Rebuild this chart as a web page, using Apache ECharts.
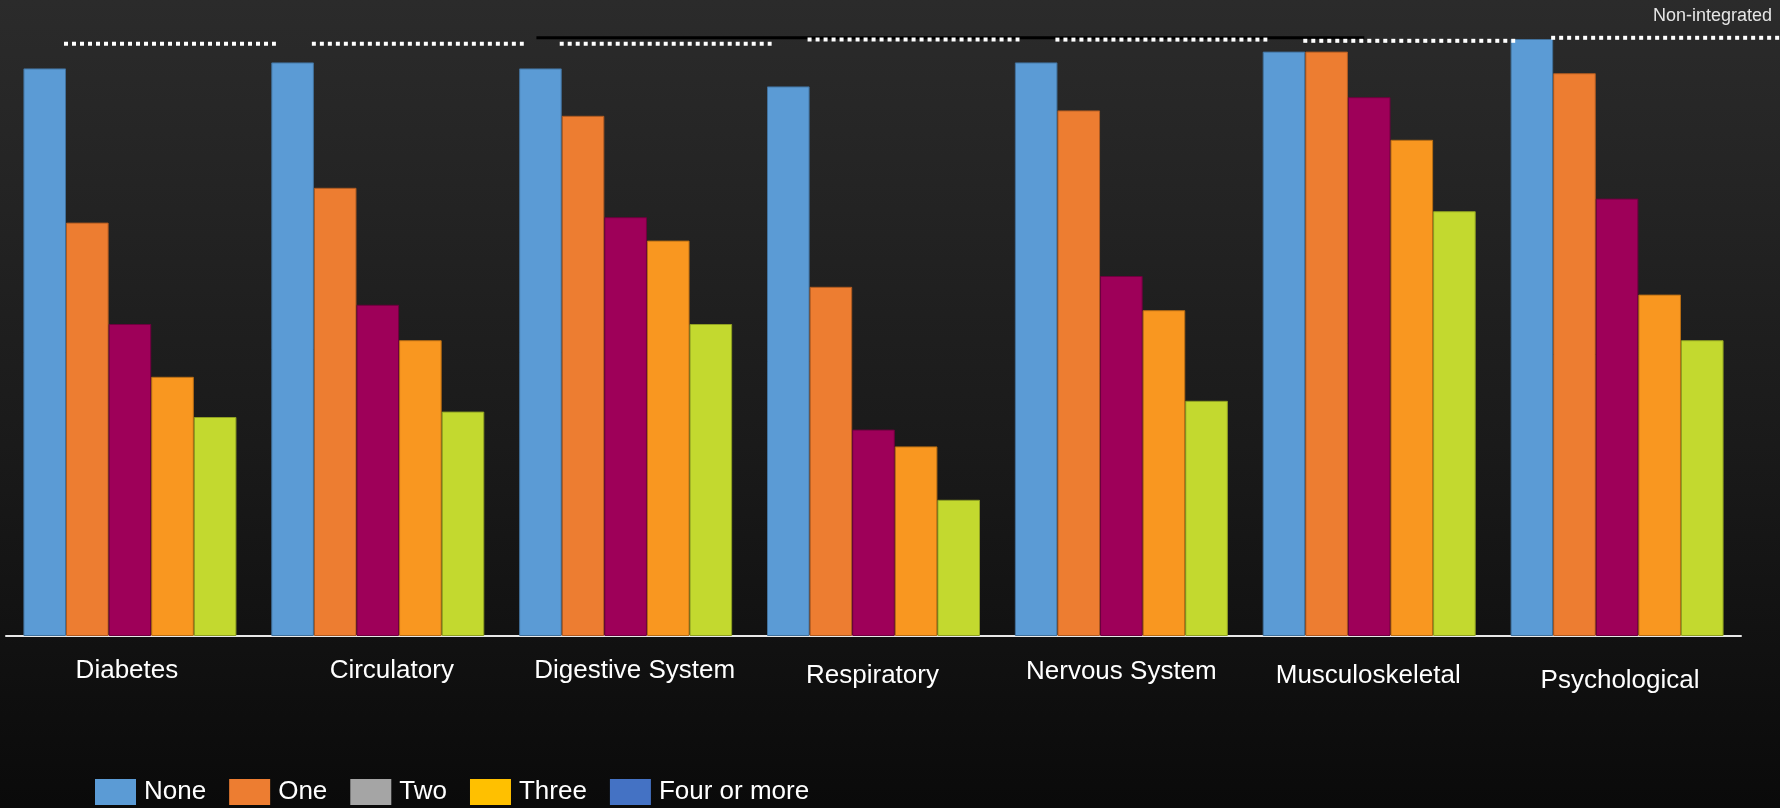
<!DOCTYPE html>
<html>
<head>
<meta charset="utf-8">
<title>Conditions by number of comorbidities</title>
<script src="https://cdn.jsdelivr.net/npm/echarts@6/dist/echarts.min.js"></script>
<style>
  html, body { margin: 0; padding: 0; background: #0a0a0a; }
  #chart { width: 1780px; height: 808px; }
</style>
</head>
<body>
<div id="chart"></div>
<script>
// Condition groups along the x axis
const categories = ['Diabetes', 'Circulatory', 'Digestive System', 'Respiratory',
                    'Nervous System', 'Musculoskeletal', 'Psychological'];

// Number of additional conditions (series names)
const seriesNames = ['None', 'One', 'Two', 'Three', 'Four or more'];

// Bar values per series, one per condition group
const noneValues  = [94.6, 95.6, 94.6, 91.6, 95.6, 97.4, 99.5];
const oneValues   = [68.9, 74.7, 86.7, 58.2, 87.6, 97.4, 93.8];
const twoValues   = [52.0, 55.2, 69.8, 34.4, 60.0, 89.8, 72.9];
const threeValues = [43.2, 49.3, 65.9, 31.6, 54.3, 82.7, 56.9];
const fourValues  = [36.5, 37.4, 52.0, 22.7, 39.2, 70.8, 49.3];

// Non-integrated reference level per condition group (dotted lines)
const nonIntegrated = [98.7, 98.7, 98.7, 99.4, 99.4, 99.2, 99.7];

// Integrated reference segment: [from group index, to group index, level]
const integratedSegment = [1.64, 4.98, 99.7];

// ---- styling ----
const barColors    = ['#5b9bd5', '#ed7d31', '#9e0059', '#f99720', '#c3d92f'];
const barBorders   = ['#41719c', '#ae5a21', '#6e003e', '#b86d14', '#8fa022'];
const legendColors = ['#5b9bd5', '#ed7d31', '#a5a5a5', '#ffc000', '#4472c4'];
const FONT = '"Liberation Sans", Arial, Helvetica, sans-serif';

// small per-label nudges: [top, right, bottom, left] padding
const labelPad = {
  'Diabetes':         [0, 6, 0, 0],
  'Circulatory':      [0, 0, 0, 28],
  'Digestive System': [0, 0, 0, 18],
  'Respiratory':      [5, 2, 0, 0],
  'Nervous System':   [1, 0, 0, 0],
  'Musculoskeletal':  [5, 2, 0, 0],
  'Psychological':    [10, 0, 0, 6]
};
const rich = {};
categories.forEach(function (c, i) {
  rich['c' + i] = { color: '#ffffff', fontSize: 26, fontFamily: FONT, padding: labelPad[c] };
});

const valueSets = [noneValues, oneValues, twoValues, threeValues, fourValues];

const barSeries = seriesNames.map(function (name, i) {
  return {
    name: name,
    type: 'bar',
    barWidth: 42.6,
    barGap: '0%',
    data: valueSets[i],
    itemStyle: { color: barColors[i], borderColor: barBorders[i], borderWidth: 1 },
    emphasis: { disabled: true },
    z: 2
  };
});

const chart = echarts.init(document.getElementById('chart'), null, { renderer: 'canvas' });

chart.setOption({
  animation: false,
  backgroundColor: new echarts.graphic.LinearGradient(0, 0, 0, 1, [
    { offset: 0, color: '#2b2b2b' },
    { offset: 0.55, color: '#1a1a1a' },
    { offset: 1, color: '#0a0a0a' }
  ]),
  title: {
    text: 'Non-integrated',
    right: 3,
    top: 2,
    textStyle: { color: '#e6e6e6', fontSize: 18, fontWeight: 'normal', fontFamily: FONT }
  },
  legend: {
    left: 90,
    top: 774,
    itemWidth: 41,
    itemHeight: 26,
    itemGap: 23,
    selectedMode: false,
    textStyle: { color: '#ffffff', fontSize: 26, fontFamily: FONT, padding: [4, 0, 0, 3] },
    data: seriesNames.map(function (n, i) {
      return { name: n, icon: 'rect', itemStyle: { color: legendColors[i], borderWidth: 0 } };
    })
  },
  grid: { left: 6, right: 39, top: 36, bottom: 172 },
  xAxis: [
    {
      type: 'category',
      data: categories,
      axisLine: { show: true, lineStyle: { color: '#e8e8e8', width: 2 } },
      axisTick: { show: false },
      axisLabel: {
        margin: 22,
        interval: 0,
        formatter: function (value, idx) { return '{c' + idx + '|' + value + '}'; },
        rich: rich
      }
    },
    { type: 'value', min: -0.5, max: 6.5, show: false }
  ],
  yAxis: { type: 'value', min: 0, max: 100, show: false, splitLine: { show: false } },
  series: barSeries.concat([
    {
      name: 'Integrated',
      type: 'custom',
      xAxisIndex: 1,
      z: 3,
      silent: true,
      data: [integratedSegment],
      encode: { x: [0, 1], y: 2 },
      renderItem: function (params, api) {
        const a = api.coord([api.value(0), api.value(2)]);
        const b = api.coord([api.value(1), api.value(2)]);
        return {
          type: 'line',
          shape: { x1: a[0], y1: a[1], x2: b[0], y2: b[1] },
          style: { stroke: '#000000', lineWidth: 3 }
        };
      }
    },
    {
      name: 'Non-integrated',
      type: 'custom',
      z: 4,
      silent: true,
      clip: false,
      data: nonIntegrated.map(function (v, i) { return [i, v]; }),
      renderItem: function (params, api) {
        const p = api.coord([api.value(0), api.value(1)]);
        const band = api.size([1, 0])[0];
        const x0 = p[0] - band * 0.266;
        let x1 = x0 + band * 0.855;
        // the last segment runs on to the right edge of the canvas
        if (params.dataIndex === nonIntegrated.length - 1) {
          x1 = api.getWidth();
        }
        return {
          type: 'line',
          shape: { x1: x0, y1: p[1], x2: x1, y2: p[1] },
          style: { stroke: '#ffffff', lineWidth: 4, lineDash: [4, 4], lineCap: 'butt' }
        };
      }
    }
  ])
});
</script>
</body>
</html>
